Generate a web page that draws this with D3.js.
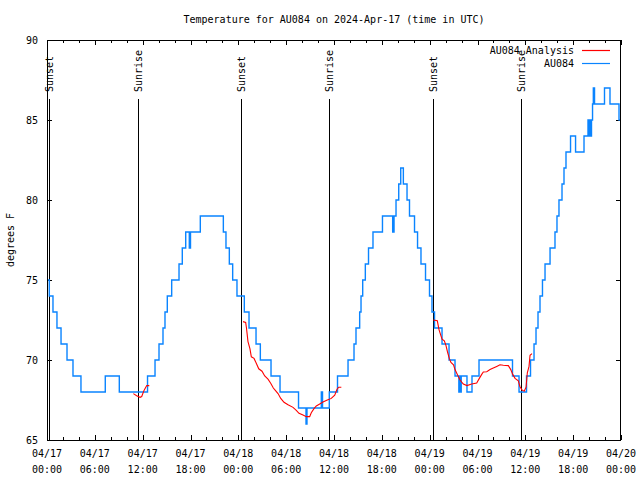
<!DOCTYPE html>
<html><head><meta charset="utf-8">
<script src="https://cdn.jsdelivr.net/npm/d3@7"></script>
<style>
body{margin:0;background:#fff}
svg{display:block}
text{font-family:"DejaVu Sans Mono","Liberation Mono",monospace;font-size:10px;fill:#000}
</style>
</head><body>
<svg id="chart" width="640" height="480"></svg>
<script>
// ---------- data ----------
const title = "Temperature for AU084 on 2024-Apr-17 (time in UTC)";
const yTitle = "degrees F";
const startTime = Date.UTC(2024, 3, 17, 0, 0);   // 04/17 00:00 UTC
const endTime = Date.UTC(2024, 3, 20, 0, 0);     // 04/20 00:00 UTC
const seriesNames = ["AU084 Analysis", "AU084"];
const yTicks = [65, 70, 75, 80, 85, 90];

// sunrise / sunset markers (hours after 04/17 00:00 UTC)
const eventNames = ["Sunset", "Sunrise", "Sunset", "Sunrise", "Sunset", "Sunrise"];
const eventHours = [0.29, 11.45, 24.37, 35.41, 48.46, 59.5];

// AU084 observations: hours after start (value holds until next entry), degrees F
const obsHours = [0, 0.29, 0.75, 1.25, 1.76, 2.51, 3.26, 4.26, 7.31, 9.07,
  12.61, 13.55, 14.05, 14.55, 14.8, 15.09, 15.64, 16.56, 16.97, 17.4, 17.85, 18.0, 19.23,
  22.12, 22.45, 22.87, 23.29, 23.83, 24.75, 25.34, 26.22, 26.76, 28.1, 29.23, 31.55, 32.49, 32.61,
  34.41, 34.56, 35.41, 36.44, 37.76, 38.51, 38.76, 39.22, 39.39, 39.6, 39.93, 40.33, 40.89,
  42.08, 43.36, 43.53, 43.78, 44.12, 44.37, 44.7, 45.16, 45.47, 46.1, 46.48, 46.91, 47.48,
  47.98, 48.29, 48.61, 49.55, 50.43, 51.18, 51.66, 51.75, 51.85, 51.96, 52.68, 53.31, 54.19,
  58.39, 59.21, 60.15, 60.65, 61.09, 61.34, 61.59, 61.84, 62.15, 62.47, 63.1, 63.72, 63.97,
  64.22, 64.6, 64.85, 65.1, 65.67, 66.3, 67.36, 67.86, 67.99, 68.11, 68.21, 68.3, 68.43,
  68.53, 68.68, 69.93, 70.62, 71.75, 72];
const obsTemps = [75, 74, 73, 72, 71, 70, 69, 68, 69, 68,
  69, 70, 71, 72, 73, 74, 75, 76, 77, 78, 77, 78, 79,
  78, 77, 76, 75, 74, 73, 72, 71, 70, 69, 68, 67, 66, 67,
  68, 67, 68, 69, 70, 71, 72, 73, 74, 75, 76, 77, 78,
  79, 78, 79, 80, 81, 82, 81, 80, 79, 78, 77, 76, 75,
  74, 73, 72, 71, 70, 69, 68, 69, 68, 69, 68, 69, 70,
  69, 68, 69, 70, 71, 72, 73, 74, 75, 76, 77, 78, 79,
  80, 81, 82, 83, 84, 83, 84, 85, 84, 85, 84, 85, 86,
  87, 86, 87, 86, 85, 85];

// AU084 Analysis (null = gap)
const anaHours = [10.83, 11.25, 11.67, 11.88, 12.17, 12.51, 12.83, null,
  24.59, 24.92, 25.02, 25.21, 25.46, 25.63, 25.97, 26.25, 26.56, 26.97, 27.31, 27.72, 28.06,
  28.39, 28.64, 28.98, 29.32, 29.73, 30.23, 30.86, 31.27, 31.61, 32.11, 32.53, 32.95, 33.15,
  33.49, 33.78, 34.21, 34.62, 35.16, 35.66, 36.09, 36.38, 36.59, 36.92, null,
  48.46, 48.96, 49.17, 49.55, 49.84, 50.05, 50.24, 50.46, 50.67, 50.99, 51.18, 51.47, 51.81,
  52.22, 52.68, 53.27, 53.9, 54.23, 54.53, 54.73, 55.16, 55.57, 55.98, 56.41, 56.82, 57.24,
  57.87, 58.17, 58.42, 58.71, 59.12, 59.33, 59.62, 59.87, 60.09, 60.25, 60.46, 60.59, 60.84];
const anaTemps = [67.9, 67.77, 67.67, 67.72, 68.1, 68.4, 68.4, null,
  72.4, 72.35, 72.0, 71.15, 70.7, 70.2, 70.1, 69.8, 69.45, 69.3, 69.0, 68.8, 68.55,
  68.25, 68.1, 67.9, 67.6, 67.36, 67.2, 67.04, 66.85, 66.67, 66.56, 66.46, 66.46, 66.7,
  66.96, 67.13, 67.25, 67.37, 67.5, 67.6, 67.8, 68.17, 68.3, 68.3, null,
  72.5, 72.45, 71.9, 71.3, 71.2, 70.9, 70.5, 70.1, 69.85, 69.7, 69.4, 69.1, 68.75,
  68.5, 68.4, 68.5, 68.56, 68.85, 69.1, 69.25, 69.27, 69.4, 69.5, 69.6, 69.7, 69.67,
  69.65, 69.4, 69.1, 68.85, 68.7, 68.33, 68.1, 68.06, 68.3, 69.2, 69.6, 70.3, 70.4];

// ---------- chart ----------
const L = 47, R = 621, T = 40, B = 440;
const svg = d3.select("#chart");
const hourToDate = h => new Date(startTime + h * 3600e3);

const x = d3.scaleUtc().domain([new Date(startTime), new Date(endTime)]).range([L, R]);
const y = d3.scaleLinear().domain([65, 90]).range([B, T]);

const red = "#ff0000", blue = "#0a84ff";

// title
svg.append("text").attr("x", (L + R) / 2).attr("y", 19)
  .attr("text-anchor", "middle").attr("dominant-baseline", "central").text(title);

// y title
svg.append("text").attr("transform", "translate(10,240) rotate(-90)")
  .attr("text-anchor", "middle").attr("dominant-baseline", "central").text(yTitle);

// axes
const major = d3.utcHour.every(6), minor = d3.utcHour.every(2);
const minorVals = minor.range(new Date(startTime), new Date(endTime + 1))
  .filter(d => d.getUTCHours() % 6 !== 0);

function styleAxis(g) {
  g.select(".domain").remove();
  g.selectAll("line").attr("stroke", "#000").attr("shape-rendering", "crispEdges");
  g.selectAll("text").remove();
}

svg.append("g").attr("transform", `translate(0,${B})`)
  .call(d3.axisBottom(x).ticks(major).tickSizeInner(-5).tickSizeOuter(0)).call(styleAxis);
svg.append("g").attr("transform", `translate(0,${B})`)
  .call(d3.axisBottom(x).tickValues(minorVals).tickSizeInner(-3).tickSizeOuter(0)).call(styleAxis);
svg.append("g").attr("transform", `translate(0,${T})`)
  .call(d3.axisTop(x).ticks(major).tickSizeInner(-5).tickSizeOuter(0)).call(styleAxis);
svg.append("g").attr("transform", `translate(0,${T})`)
  .call(d3.axisTop(x).tickValues(minorVals).tickSizeInner(-3).tickSizeOuter(0)).call(styleAxis);

const yl = svg.append("g").attr("transform", `translate(${L},0)`)
  .call(d3.axisLeft(y).tickValues(yTicks).tickSizeInner(-5).tickSizeOuter(0).tickPadding(9).tickFormat(d3.format("d")));
yl.select(".domain").remove();
yl.selectAll("line").attr("stroke", "#000").attr("shape-rendering", "crispEdges");
yl.selectAll("text").attr("font-family", null).attr("font-size", null).attr("fill", "#000");

svg.append("g").attr("transform", `translate(${R},0)`)
  .call(d3.axisRight(y).tickValues(yTicks).tickSizeInner(-5).tickSizeOuter(0)).call(styleAxis);

// x labels (two lines)
const fmtDay = d3.utcFormat("%m/%d"), fmtTime = d3.utcFormat("%H:%M");
const xl = svg.append("g");
x.ticks(major).forEach(d => {
  const t = xl.append("text").attr("x", x(d)).attr("text-anchor", "middle");
  t.append("tspan").attr("x", x(d)).attr("y", 457).text(fmtDay(d));
  t.append("tspan").attr("x", x(d)).attr("y", 473).text(fmtTime(d));
});

// sunrise/sunset lines
eventHours.forEach((h, i) => {
  const xp = Math.round(x(hourToDate(h))) + 0.5;
  svg.append("line").attr("x1", xp).attr("x2", xp).attr("y1", 99).attr("y2", B)
    .attr("stroke", "#000").attr("stroke-width", 1).attr("shape-rendering", "crispEdges");
  svg.append("text").attr("transform", `translate(${xp},92) rotate(-90)`)
    .attr("text-anchor", "start").attr("dominant-baseline", "central").text(eventNames[i]);
});

// observation line (step)
const obs = obsHours.map((h, i) => ({ t: hourToDate(h), v: obsTemps[i] }));
svg.append("path").datum(obs)
  .attr("d", d3.line().x(d => x(d.t)).y(d => y(d.v)).curve(d3.curveStepAfter))
  .attr("fill", "none").attr("stroke", blue).attr("stroke-width", 1.4);

// analysis line
const ana = anaHours.map((h, i) => ({ t: h === null ? null : hourToDate(h), v: anaTemps[i] }));
svg.append("path").datum(ana)
  .attr("d", d3.line().defined(d => d.t !== null).x(d => x(d.t)).y(d => y(d.v)))
  .attr("fill", "none").attr("stroke", red).attr("stroke-width", 1.1);

// frame
svg.append("rect").attr("x", L + 0.5).attr("y", T + 0.5).attr("width", R - L - 1).attr("height", B - T)
  .attr("fill", "none").attr("stroke", "#000").attr("shape-rendering", "crispEdges");

// legend
const legY = [50, 63], legCol = [red, blue];
seriesNames.forEach((n, i) => {
  svg.append("text").attr("x", 574).attr("y", legY[i]).attr("text-anchor", "end")
    .attr("dominant-baseline", "central").text(n);
  svg.append("line").attr("x1", 582).attr("x2", 610).attr("y1", legY[i] + 0.5).attr("y2", legY[i] + 0.5)
    .attr("stroke", legCol[i]).attr("stroke-width", 1.2);
});
</script>
</body></html>
